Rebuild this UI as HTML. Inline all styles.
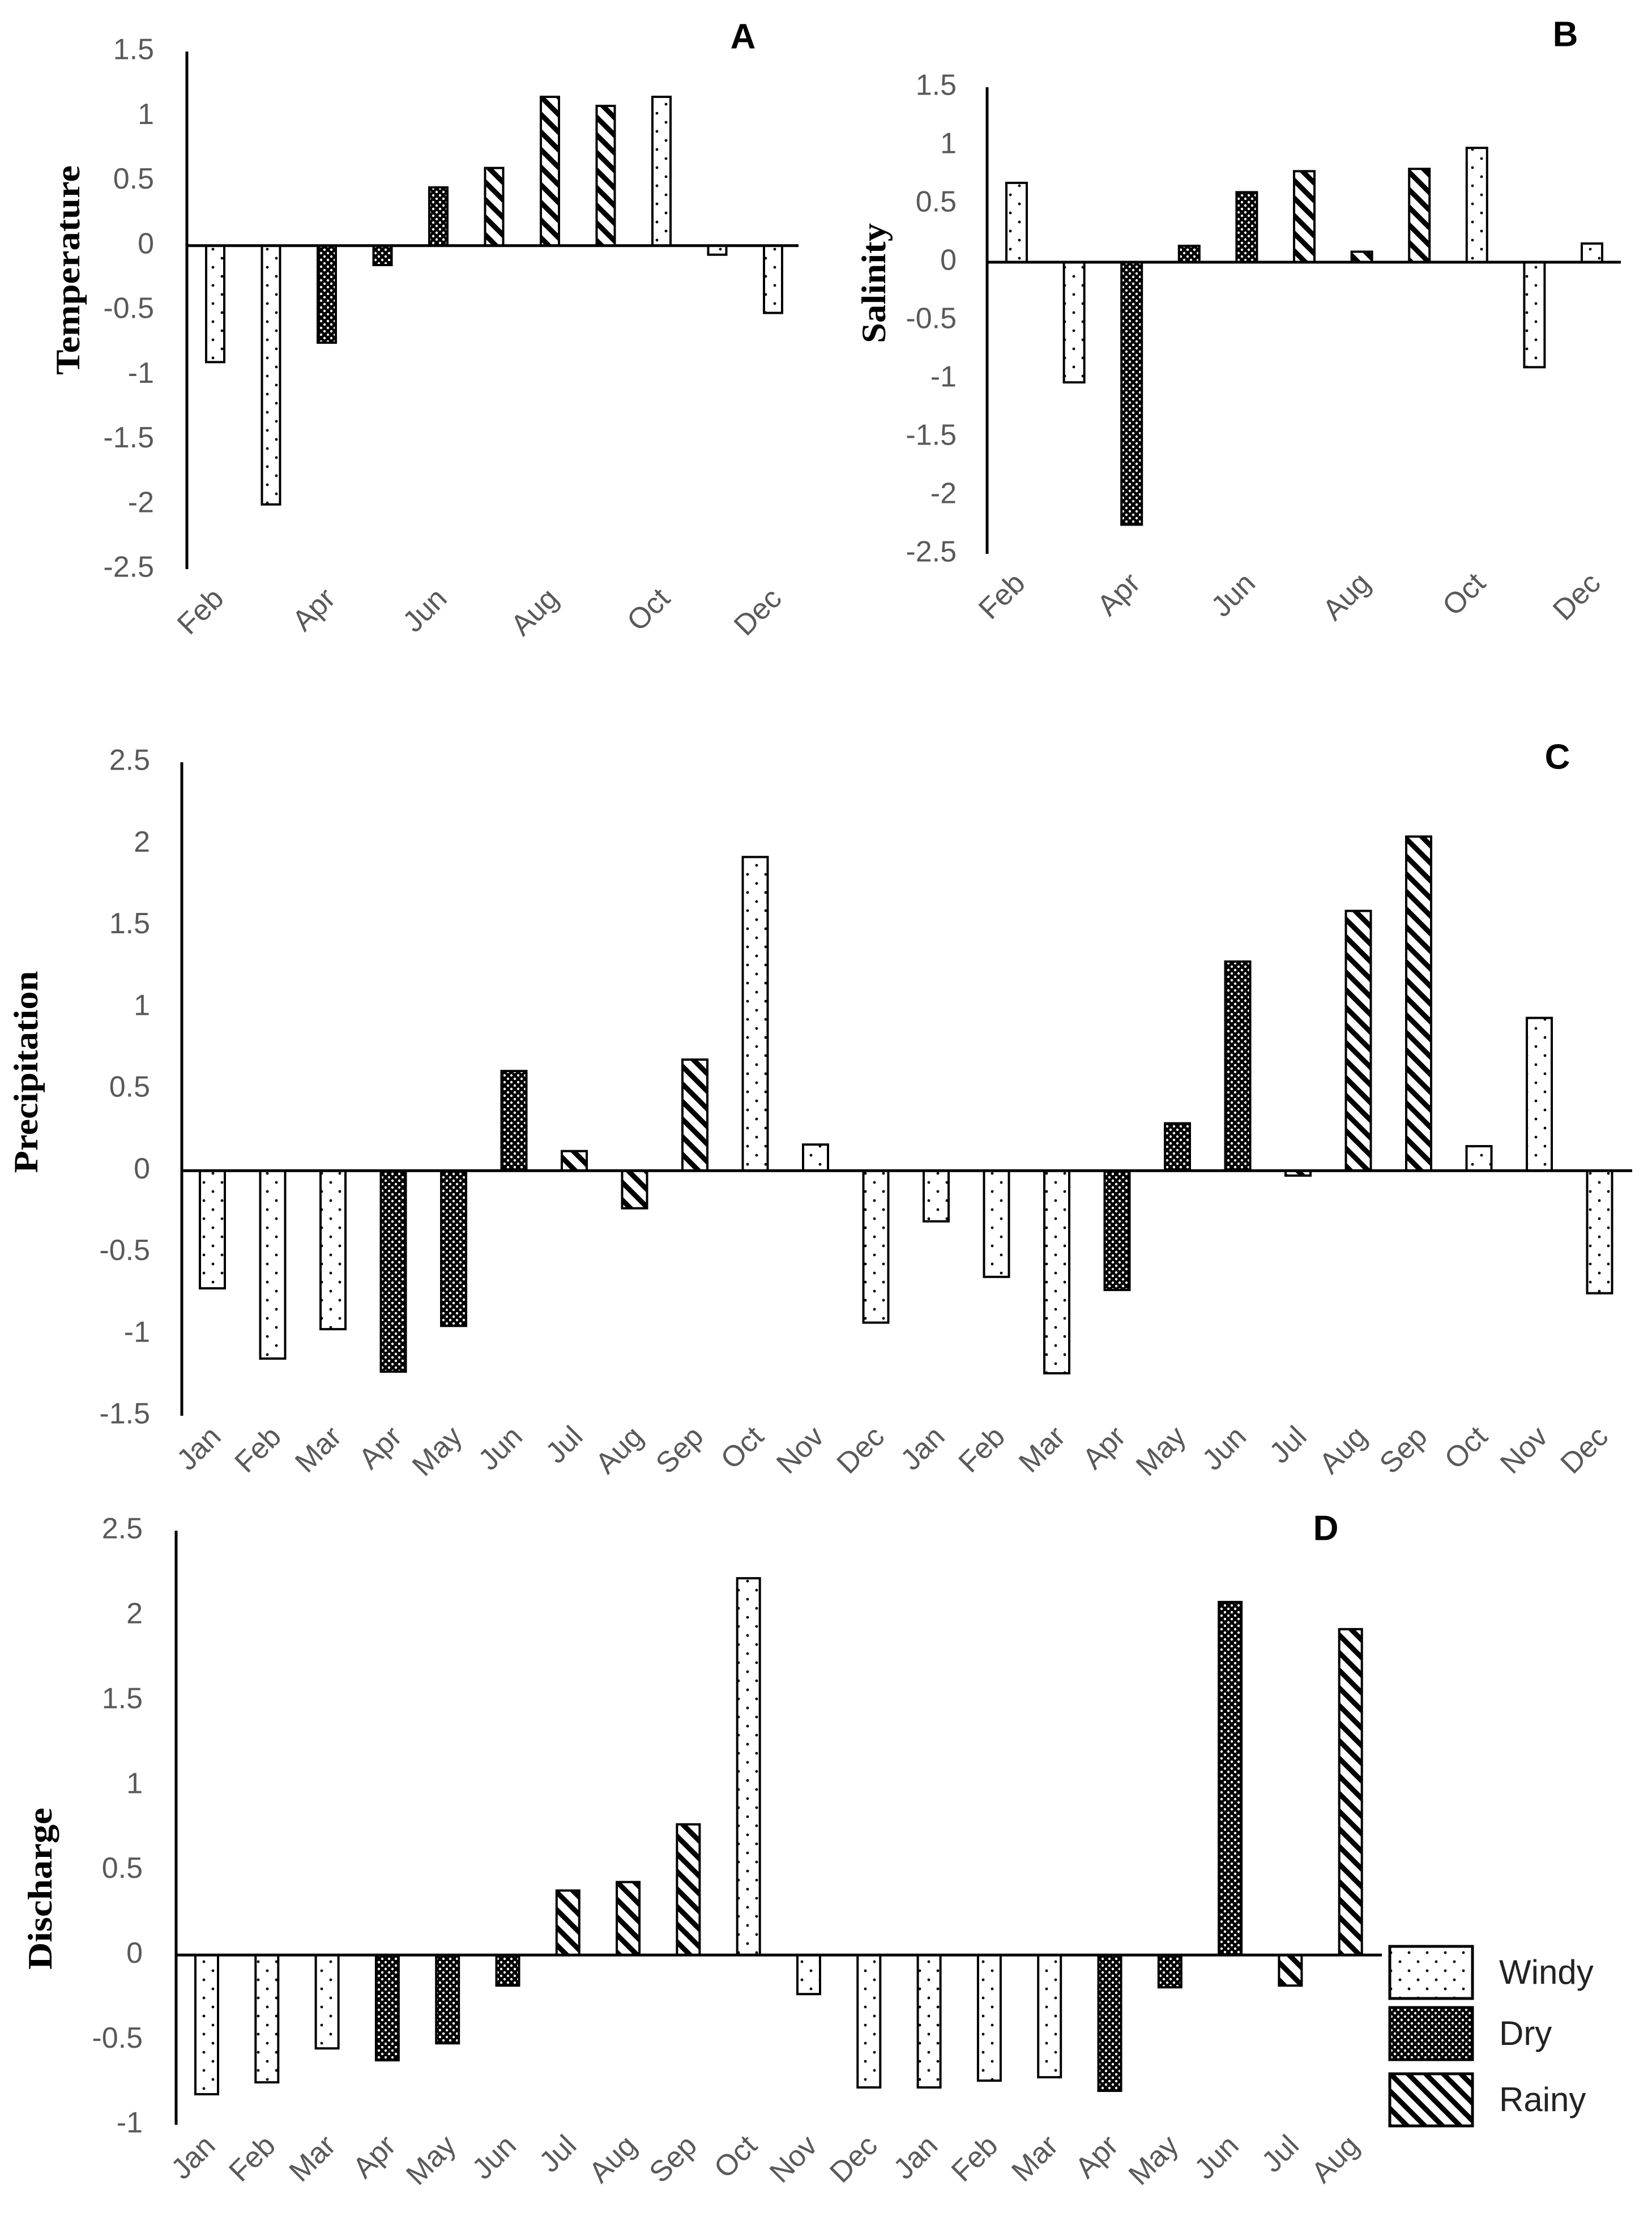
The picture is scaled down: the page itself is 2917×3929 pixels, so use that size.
<!DOCTYPE html>
<html><head><meta charset="utf-8"><style>
html,body{margin:0;padding:0;background:#fff;}
svg{display:block;}
</style></head><body>
<svg id="fig" xmlns="http://www.w3.org/2000/svg" width="2917" height="3929" viewBox="0 0 2917 3929">
<defs>
<pattern id="pWindy" patternUnits="userSpaceOnUse" width="32" height="32">
<rect width="32" height="32" fill="#fff"/>
<circle cx="8" cy="8" r="2.4" fill="#000"/>
<circle cx="24" cy="24" r="2.4" fill="#000"/>
</pattern>
<pattern id="pDry" patternUnits="userSpaceOnUse" width="12" height="12">
<rect width="12" height="12" fill="#000"/>
<circle cx="3" cy="3" r="2.2" fill="#fff"/>
<circle cx="9" cy="9" r="2.2" fill="#fff"/>
</pattern>
<pattern id="pRainy" patternUnits="userSpaceOnUse" width="22" height="22" patternTransform="rotate(-45)">
<rect width="22" height="22" fill="#fff"/>
<rect x="0" y="0" width="9" height="22" fill="#000"/>
</pattern>
</defs>
<g id="root"></g>
</svg>
<script>
// ---- Data ----
const monthsA = ["Feb","Mar","Apr","May","Jun","Jul","Aug","Sep","Oct","Nov","Dec"];
const valuesA = [-0.9,-2.0,-0.75,-0.15,0.45,0.6,1.15,1.08,1.15,-0.07,-0.52];
const seasonsA = ["W","W","D","D","D","R","R","R","W","W","W"];

const monthsB = ["Feb","Mar","Apr","May","Jun","Jul","Aug","Sep","Oct","Nov","Dec"];
const valuesB = [0.68,-1.03,-2.25,0.14,0.6,0.78,0.09,0.8,0.98,-0.9,0.16];
const seasonsB = ["W","W","D","D","D","R","R","R","W","W","W"];

const monthsC = ["Jan","Feb","Mar","Apr","May","Jun","Jul","Aug","Sep","Oct","Nov","Dec","Jan","Feb","Mar","Apr","May","Jun","Jul","Aug","Sep","Oct","Nov","Dec"];
const valuesC = [-0.72,-1.15,-0.97,-1.23,-0.95,0.61,0.12,-0.23,0.68,1.92,0.16,-0.93,-0.31,-0.65,-1.24,-0.73,0.29,1.28,-0.03,1.59,2.045,0.15,0.935,-0.75];
const seasonsC = ["W","W","W","D","D","D","R","R","R","W","W","W","W","W","W","D","D","D","R","R","R","W","W","W"];

const monthsD = ["Jan","Feb","Mar","Apr","May","Jun","Jul","Aug","Sep","Oct","Nov","Dec","Jan","Feb","Mar","Apr","May","Jun","Jul","Aug"];
const valuesD = [-0.82,-0.75,-0.55,-0.62,-0.52,-0.18,0.38,0.43,0.77,2.22,-0.23,-0.78,-0.78,-0.74,-0.72,-0.8,-0.19,2.08,-0.18,1.92];
const seasonsD = ["W","W","W","D","D","D","R","R","R","W","W","W","W","W","W","D","D","D","R","R"];

const ticksA = [1.5,1,0.5,0,-0.5,-1,-1.5,-2,-2.5];
const ticksB = [1.5,1,0.5,0,-0.5,-1,-1.5,-2,-2.5];
const ticksC = [2.5,2,1.5,1,0.5,0,-0.5,-1,-1.5];
const ticksD = [2.5,2,1.5,1,0.5,0,-0.5,-1];

const fills = {W:"url(#pWindy)", D:"url(#pDry)", R:"url(#pRainy)"};
const NS = "http://www.w3.org/2000/svg";
const root = document.getElementById("root");

function mk(tag, attrs, parent){
  const e = document.createElementNS(NS, tag);
  for (const k in attrs) e.setAttribute(k, attrs[k]);
  (parent||root).appendChild(e);
  return e;
}

function panel(cfg){
  const g = mk("g", {});
  
  
  const yMax = cfg.ticks[0], yMin = cfg.ticks[cfg.ticks.length-1];
  const yScale = v => cfg.top + (yMax - v) / (yMax - yMin) * (cfg.bottom - cfg.top);
  const xScale = i => cfg.first + i * cfg.step;
  const zeroY = yScale(0);

  cfg.ticks.forEach(t => {
    const tx = mk("text", {x: cfg.tickX, y: yScale(t), "text-anchor":"end", "dominant-baseline":"middle",
      "font-family":"Liberation Sans, sans-serif", "font-size": 52, fill:"#595959"}, g);
    tx.textContent = String(t);
    
    
  });

  cfg.values.forEach((v, i) => {
    const cx = xScale(i);
    const y0 = Math.min(yScale(v), zeroY), h = Math.abs(yScale(v) - zeroY);
    const r = mk("rect", {x: cx - cfg.barW/2, y: y0, width: cfg.barW, height: Math.max(h,1),
      fill: fills[cfg.seasons[i]], stroke:"#000", "stroke-width": 4}, g);
    
    
  });

  const ya = mk("line", {x1: cfg.axisX, x2: cfg.axisX, y1: cfg.top, y2: cfg.bottom, stroke:"#000", "stroke-width": 5}, g);
  
  
  const xa = mk("line", {x1: cfg.axisX, x2: cfg.right, y1: zeroY, y2: zeroY, stroke:"#000", "stroke-width": 5}, g);
  
  

  cfg.months.forEach((m, i) => {
    if (i % cfg.labelEvery !== 0) return;
    const ax = xScale(i) + 18, ay = cfg.bottom + cfg.labelDy;
    const t = mk("text", {x: ax, y: ay, "text-anchor":"end",
      transform: `rotate(-45 ${ax} ${ay})`,
      "font-family":"Liberation Sans, sans-serif", "font-size": 52, fill:"#595959"}, g);
    t.textContent = m;
    
    
  });

  const tt = mk("text", {x: 0, y: 0, "text-anchor":"middle", "dominant-baseline":"middle",
    transform: `translate(${cfg.titleX} ${cfg.titleY}) rotate(-90)`,
    "font-family":"Liberation Serif, serif", "font-weight":"bold", "font-size": 60,
    textLength: cfg.titleLen, lengthAdjust:"spacingAndGlyphs", fill:"#000"}, g);
  tt.textContent = cfg.title;
  
  

  const lt = mk("text", {x: cfg.letterX, y: cfg.letterY, "text-anchor":"middle", "dominant-baseline":"middle",
    "font-family":"Liberation Sans, sans-serif", "font-weight":"bold", "font-size": 62, fill:"#000"}, g);
  lt.textContent = cfg.letter;
  
  
}

panel({name:"panel-a-temperature", months:monthsA, values:valuesA, seasons:seasonsA, ticks:ticksA,
  axisX:330, top:91, bottom:1005, right:1410, first:380, step:98.5, barW:32, tickX:272,
  labelEvery:2, labelDy:55, title:"Temperature", titleX:126, titleY:477, titleLen:370,
  letter:"A", letterX:1312, letterY:69});

panel({name:"panel-b-salinity", months:monthsB, values:valuesB, seasons:seasonsB, ticks:ticksB,
  axisX:1743, top:154, bottom:978, right:2862, first:1795, step:101.6, barW:36, tickX:1689,
  labelEvery:2, labelDy:55, title:"Salinity", titleX:1549, titleY:500, titleLen:212,
  letter:"B", letterX:2764, letterY:65});

panel({name:"panel-c-precipitation", months:monthsC, values:valuesC, seasons:seasonsC, ticks:ticksC,
  axisX:321, top:1346, bottom:2500, right:2882, first:375, step:106.5, barW:44, tickX:265,
  labelEvery:1, labelDy:40, title:"Precipitation", titleX:52, titleY:1893, titleLen:357,
  letter:"C", letterX:2750, letterY:1341});

panel({name:"panel-d-discharge", months:monthsD, values:valuesD, seasons:seasonsD, ticks:ticksD,
  axisX:311, top:2703, bottom:3752, right:2440, first:365, step:106.3, barW:40, tickX:252,
  labelEvery:1, labelDy:40, title:"Discharge", titleX:77, titleY:3335, titleLen:286,
  letter:"D", letterX:2341, letterY:2703});

const legendNames = ["Windy","Dry","Rainy"];
const legendKeys = ["W","D","R"];
const legendBoxY = [3437, 3545, 3662];
const lg = mk("g", {});


legendNames.forEach((n, i) => {
  const r = mk("rect", {x: 2454, y: legendBoxY[i], width: 146, height: 92, fill: fills[legendKeys[i]], stroke:"#000", "stroke-width": 5}, lg);
  
  
  const t = mk("text", {x: 2647, y: legendBoxY[i] + 50, "dominant-baseline":"middle",
    "font-family":"Liberation Sans, sans-serif", "font-size": 60, fill:"#222"}, lg);
  t.textContent = n;
  
  
});
</script>
</body></html>
